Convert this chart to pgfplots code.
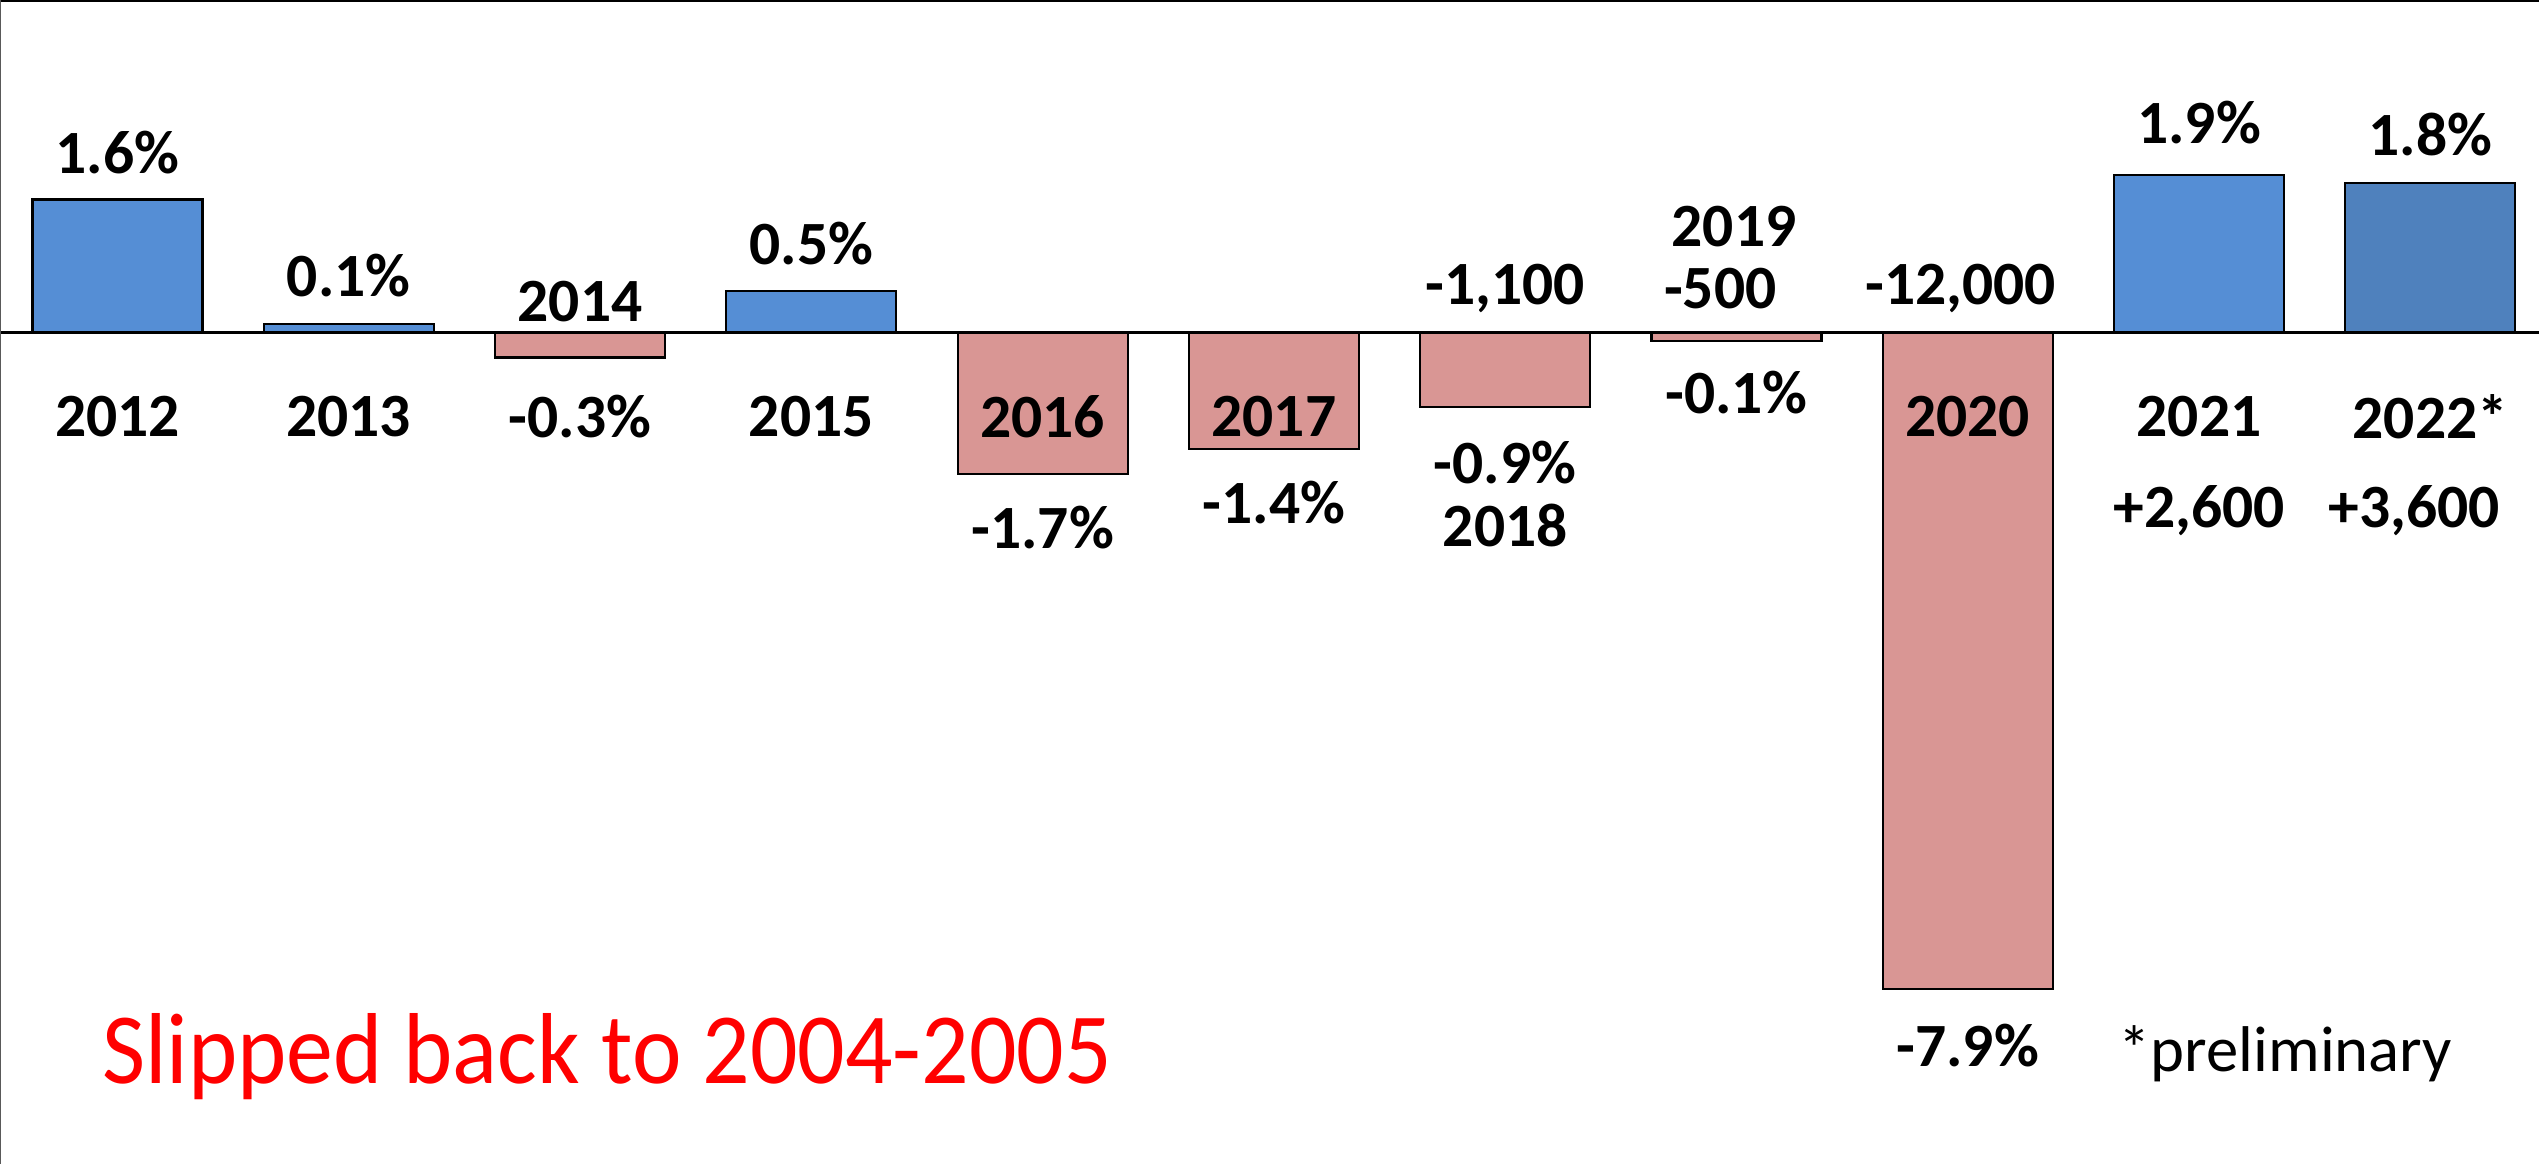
\documentclass[border=0pt]{standalone}
\usepackage{pgfplots}
\pgfplotsset{compat=1.18}
\usepackage{fontspec}
\setmainfont{Carlito}
\definecolor{barblue}{HTML}{558ED5}
\definecolor{bardark}{HTML}{4F81BD}
\definecolor{barpink}{HTML}{D99694}
\begin{document}
\begin{tikzpicture}
\begin{axis}[
  name=ax,
  scale only axis,
  width=25.39cm, height=11.64cm,
  xmin=-0.508, xmax=10.47,
  ymin=-10, ymax=4,
  axis lines=none,
  ybar, bar shift=0pt, bar width=0.735,
  clip=false,
]
\addplot[fill=barblue, draw=black, line width=0.6pt] coordinates {(0,1.6) (1,0.1) (3,0.5) (9,1.9)};
\addplot[fill=barpink, draw=black, line width=0.6pt] coordinates {(2,-0.3) (4,-1.7) (5,-1.4) (6,-0.9) (7,-0.1) (8,-7.9)};
\addplot[fill=bardark, draw=black, line width=0.6pt] coordinates {(10,1.8)};
\draw[black, line width=1.0pt] (axis cs:-0.508,0) -- (axis cs:10.47,0);
\draw[black, line width=1.2pt] (rel axis cs:0,1) -- (rel axis cs:1,1);
\draw[gray!70!black, line width=0.5pt] (rel axis cs:0,0) -- (rel axis cs:0,1);
\tikzset{lab/.style={font=\bfseries\fontsize{17.5}{20}\selectfont, inner sep=0pt}}
% above
\node[lab] at (axis cs:0,2.16) {1.6\%};
\node[lab] at (axis cs:1,0.68) {0.1\%};
\node[lab] at (axis cs:2,0.37) {2014};
\node[lab] at (axis cs:3,1.07) {0.5\%};
\node[lab] at (axis cs:6,0.53) {-1,100};
\node[lab] at (axis cs:6.99,1.27) {2019};
\node[lab] at (axis cs:6.93,0.53) {-500};
\node[lab] at (axis cs:7.97,0.53) {-12,000};
\node[lab] at (axis cs:9,2.53) {1.9\%};
\node[lab] at (axis cs:10,2.38) {1.8\%};
% below
\node[lab] at (axis cs:0,-1.01) {2012};
\node[lab] at (axis cs:1,-1.01) {2013};
\node[lab] at (axis cs:2,-1.01) {-0.3\%};
\node[lab] at (axis cs:3,-1.01) {2015};
\node[lab] at (axis cs:4,-1.01) {2016};
\node[lab] at (axis cs:5,-1.01) {2017};
\node[lab] at (axis cs:6,-1.56) {-0.9\%};
\node[lab] at (axis cs:6,-2.32) {2018};
\node[lab] at (axis cs:7,-0.72) {-0.1\%};
\node[lab] at (axis cs:8,-1.01) {2020};
\node[lab] at (axis cs:9,-1.01) {2021};
\node[lab] at (axis cs:10,-1.01) {2022*};
\node[lab] at (axis cs:4,-2.34) {-1.7\%};
\node[lab] at (axis cs:5,-2.05) {-1.4\%};
\node[lab] at (axis cs:9,-2.14) {+2,600};
\node[lab] at (axis cs:9.93,-2.14) {+3,600};
\node[lab] at (axis cs:8,-8.58) {-7.9\%};
\node[font=\fontsize{18.4}{21}\selectfont, inner sep=0pt, anchor=west] at (axis cs:8.65,-8.67) {*preliminary};
\node[font=\fontsize{28.7}{32}\selectfont, text=red, inner sep=0pt, anchor=west] at (axis cs:-0.07,-8.71) {\scalebox{0.93}[1]{Slipped back to 2004-2005}};
\end{axis}
\pgfresetboundingbox
\useasboundingbox (ax.south west) rectangle (ax.north east);
\end{tikzpicture}
\end{document}
